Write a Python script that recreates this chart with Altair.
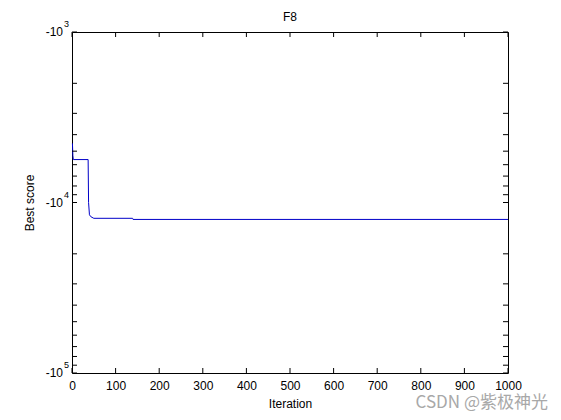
import altair as alt
import pandas as pd

# ---- data ----
iterations = [1, 2, 3, 37, 38, 40, 43, 50, 139, 140, 1000]
best_scores = [-4500, -5300, -5600, -5600, -10000, -11800, -12100, -12380, -12380, -12569.5, -12569.5]
x_ticks = [0, 100, 200, 300, 400, 500, 600, 700, 800, 900, 1000]
y_major = [1000, 10000, 100000]
y_exponents = ["3", "4", "5"]
y_minor = [2000, 3000, 4000, 5000, 6000, 7000, 8000, 9000,
           20000, 30000, 40000, 50000, 60000, 70000, 80000, 90000]
title_text = "F8"
x_title = "Iteration"
y_title = "Best score"
watermark = "CSDN @紫极神光"

W, H = 436, 341
FONT = "Liberation Sans"

df = pd.DataFrame({"Iteration": iterations, "score": best_scores})
df["mag"] = -df["score"]

xscale = alt.Scale(domain=[0, 1000], nice=False, zero=False)
yscale = alt.Scale(type="log", domain=[1000, 100000], reverse=True, nice=False)

xaxis = alt.Axis(values=x_ticks, ticks=False, domain=False, grid=False,
                 labelBaseline="alphabetic", labelPadding=16, labelFontSize=12,
                 labelFlush=False, format="d", labelFont=FONT, labelColor="black",
                 title=x_title, titleY=34, titleBaseline="alphabetic",
                 titleFontSize=12, titleFont=FONT, titleColor="black",
                 titleFontWeight="normal")
yaxis = alt.Axis(labels=False, ticks=False, domain=False, grid=False,
                 title=y_title, titleX=-39, titleY=H / 2,
                 titleBaseline="alphabetic", titleAlign="center",
                 titleAngle=270, titleFontSize=12, titleFont=FONT,
                 titleColor="black", titleFontWeight="normal")

line = alt.Chart(df).mark_line(color="#0000c8", strokeWidth=1).encode(
    x=alt.X("Iteration:Q", scale=xscale, axis=xaxis, title=x_title),
    y=alt.Y("mag:Q", scale=yscale, axis=yaxis, title=y_title),
)

xt = alt.Chart(pd.DataFrame({"t": x_ticks}))
x_bottom = xt.mark_rule(color="black", strokeWidth=1).encode(
    x=alt.X("t:Q", scale=xscale, axis=xaxis, title=x_title),
    y=alt.value(H), y2=alt.value(H - 5))
x_top = xt.mark_rule(color="black", strokeWidth=1).encode(
    x=alt.X("t:Q", scale=xscale, axis=xaxis, title=x_title),
    y=alt.value(0), y2=alt.value(5))

yt = alt.Chart(pd.DataFrame({"t": y_major + y_minor}))
y_left = yt.mark_rule(color="black", strokeWidth=1).encode(
    y=alt.Y("t:Q", scale=yscale, axis=yaxis, title=y_title),
    x=alt.value(0), x2=alt.value(5))
y_right = yt.mark_rule(color="black", strokeWidth=1).encode(
    y=alt.Y("t:Q", scale=yscale, axis=yaxis, title=y_title),
    x=alt.value(W), x2=alt.value(W - 5))

lab = alt.Chart(pd.DataFrame({"v": y_major, "base": ["-10"] * 3, "exp": y_exponents}))
lab_base = lab.mark_text(align="right", baseline="middle", fontSize=12, font=FONT,
                         color="black").encode(
    y=alt.Y("v:Q", scale=yscale, axis=yaxis, title=y_title),
    x=alt.value(-9), text="base:N")
lab_exp = lab.mark_text(align="left", baseline="alphabetic", fontSize=9, font=FONT,
                        color="black", dy=-5).encode(
    y=alt.Y("v:Q", scale=yscale, axis=yaxis, title=y_title),
    x=alt.value(-8), text="exp:N")

ttl = alt.Chart(pd.DataFrame({"t": [title_text]})).mark_text(
    align="center", baseline="alphabetic", fontSize=12, font=FONT,
    color="black").encode(x=alt.value(W / 2), y=alt.value(-11), text="t:N")

wm = alt.Chart(pd.DataFrame({"t": [watermark]})).mark_text(
    align="right", baseline="alphabetic", fontSize=17, font="Noto Sans CJK SC",
    color="#a8a8a8").encode(x=alt.value(W + 40), y=alt.value(H + 35), text="t:N")

chart = alt.layer(line, x_bottom, x_top, y_left, y_right, lab_base, lab_exp, ttl, wm).properties(
    width=W, height=H,
    background="white",
    autosize=alt.AutoSizeParams(type="none"),
    padding={"left": 64, "top": 24, "right": 45, "bottom": 39},
).configure_view(stroke="black", strokeWidth=1)

chart.save("out.html", embed_options={"renderer": "svg", "actions": False})
